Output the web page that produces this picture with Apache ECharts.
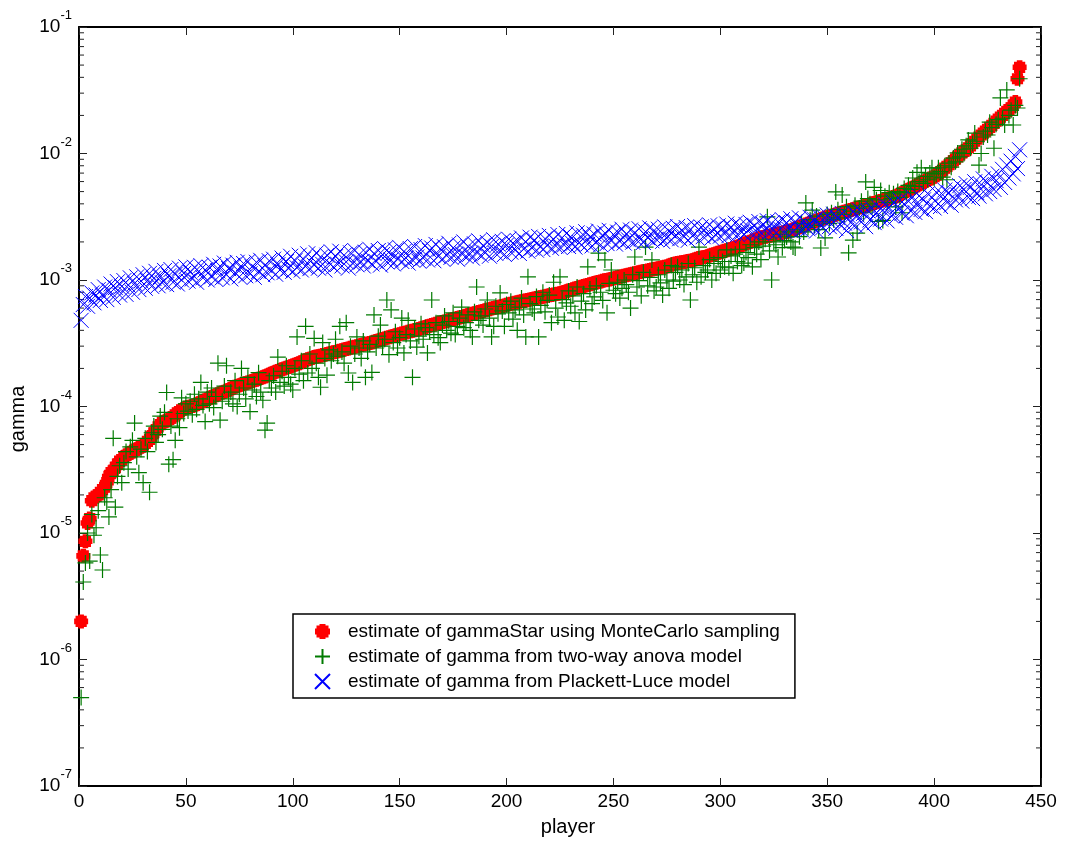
<!DOCTYPE html>
<html><head><meta charset="utf-8">
<script src="https://cdn.jsdelivr.net/npm/echarts@6/dist/echarts.min.js"></script>
<style>html,body{margin:0;padding:0;background:#fff}#c{width:1071px;height:842px}</style>
</head><body><div id="c"></div>
<script>
const seriesNames = [
  'estimate of gammaStar using MonteCarlo sampling',
  'estimate of gamma from two-way anova model',
  'estimate of gamma from Plackett-Luce model'
];
const xTickLabels = [0,50,100,150,200,250,300,350,400,450];
const yDecades = [-7,-6,-5,-4,-3,-2,-1];
const minorMantissas = [2,3,4,5,6,7,8,9];

// gammaStar, MonteCarlo (players 1..440)
const gammaStarMC = [
2.0e-6,6.6e-6,8.6e-6,1.2e-5,1.3e-5,1.8e-5,1.9e-5,1.95e-5,2.0e-5,2.1e-5,
2.2e-5,2.3e-5,2.5e-5,2.8e-5,3.0e-5,3.1e-5,3.3e-5,3.5e-5,3.7e-5,3.8e-5,
4.0e-5,4.1e-5,4.2e-5,4.3e-5,4.4e-5,4.5e-5,4.6e-5,4.7e-5,4.8e-5,4.9e-5,
5.1e-5,5.3e-5,5.5e-5,5.8e-5,6.2e-5,6.5e-5,6.9e-5,7.2e-5,7.5e-5,7.6e-5,
7.7e-5,7.9e-5,8.1e-5,8.3e-5,8.6e-5,8.9e-5,9.1e-5,9.4e-5,9.6e-5,9.8e-5,
9.9e-5,1.0e-4,1.01e-4,1.02e-4,1.04e-4,1.06e-4,1.08e-4,1.1e-4,1.12e-4,1.14e-4,
1.16e-4,1.19e-4,1.21e-4,1.23e-4,1.25e-4,1.27e-4,1.29e-4,1.31e-4,1.33e-4,1.35e-4,
1.38e-4,1.41e-4,1.43e-4,1.45e-4,1.47e-4,1.49e-4,1.51e-4,1.53e-4,1.55e-4,1.57e-4,
1.59e-4,1.61e-4,1.63e-4,1.66e-4,1.68e-4,1.7e-4,1.73e-4,1.76e-4,1.79e-4,1.82e-4,
1.85e-4,1.88e-4,1.91e-4,1.94e-4,1.97e-4,2.0e-4,2.02e-4,2.05e-4,2.08e-4,2.11e-4,
2.14e-4,2.17e-4,2.2e-4,2.24e-4,2.28e-4,2.32e-4,2.36e-4,2.39e-4,2.42e-4,2.46e-4,
2.48e-4,2.5e-4,2.52e-4,2.55e-4,2.57e-4,2.6e-4,2.62e-4,2.65e-4,2.68e-4,2.7e-4,
2.73e-4,2.76e-4,2.79e-4,2.82e-4,2.85e-4,2.88e-4,2.91e-4,2.94e-4,2.97e-4,3.0e-4,
3.03e-4,3.06e-4,3.09e-4,3.12e-4,3.15e-4,3.18e-4,3.21e-4,3.25e-4,3.29e-4,3.33e-4,
3.37e-4,3.41e-4,3.45e-4,3.49e-4,3.53e-4,3.57e-4,3.61e-4,3.65e-4,3.69e-4,3.73e-4,
3.77e-4,3.81e-4,3.85e-4,3.89e-4,3.93e-4,3.97e-4,4.01e-4,4.05e-4,4.1e-4,4.15e-4,
4.2e-4,4.25e-4,4.3e-4,4.35e-4,4.4e-4,4.45e-4,4.5e-4,4.55e-4,4.6e-4,4.65e-4,
4.7e-4,4.75e-4,4.8e-4,4.85e-4,4.9e-4,4.95e-4,5.0e-4,5.05e-4,5.1e-4,5.16e-4,
5.22e-4,5.28e-4,5.34e-4,5.4e-4,5.46e-4,5.52e-4,5.58e-4,5.64e-4,5.7e-4,5.76e-4,
5.82e-4,5.88e-4,5.94e-4,6.0e-4,6.06e-4,6.12e-4,6.18e-4,6.24e-4,6.3e-4,6.36e-4,
6.42e-4,6.48e-4,6.54e-4,6.6e-4,6.66e-4,6.72e-4,6.78e-4,6.84e-4,6.9e-4,6.96e-4,
7.02e-4,7.08e-4,7.14e-4,7.2e-4,7.26e-4,7.32e-4,7.38e-4,7.44e-4,7.5e-4,7.56e-4,
7.62e-4,7.68e-4,7.74e-4,7.8e-4,7.86e-4,7.95e-4,8.05e-4,8.15e-4,8.25e-4,8.35e-4,
8.45e-4,8.55e-4,8.65e-4,8.75e-4,8.85e-4,8.95e-4,9.05e-4,9.15e-4,9.25e-4,9.35e-4,
9.45e-4,9.55e-4,9.65e-4,9.75e-4,9.85e-4,9.95e-4,1.0e-3,1.01e-3,1.02e-3,1.03e-3,
1.04e-3,1.05e-3,1.06e-3,1.07e-3,1.08e-3,1.09e-3,1.1e-3,1.11e-3,1.12e-3,1.13e-3,
1.14e-3,1.15e-3,1.16e-3,1.17e-3,1.18e-3,1.19e-3,1.2e-3,1.21e-3,1.22e-3,1.23e-3,
1.24e-3,1.25e-3,1.26e-3,1.27e-3,1.28e-3,1.3e-3,1.32e-3,1.34e-3,1.35e-3,1.36e-3,
1.37e-3,1.38e-3,1.39e-3,1.4e-3,1.41e-3,1.42e-3,1.43e-3,1.45e-3,1.47e-3,1.49e-3,
1.5e-3,1.51e-3,1.52e-3,1.54e-3,1.56e-3,1.58e-3,1.6e-3,1.62e-3,1.64e-3,1.66e-3,
1.68e-3,1.7e-3,1.72e-3,1.74e-3,1.76e-3,1.78e-3,1.8e-3,1.83e-3,1.86e-3,1.89e-3,
1.92e-3,1.95e-3,1.98e-3,2.01e-3,2.04e-3,2.07e-3,2.1e-3,2.13e-3,2.16e-3,2.19e-3,
2.2e-3,2.22e-3,2.24e-3,2.26e-3,2.28e-3,2.3e-3,2.32e-3,2.34e-3,2.36e-3,2.38e-3,
2.4e-3,2.43e-3,2.46e-3,2.5e-3,2.54e-3,2.58e-3,2.62e-3,2.66e-3,2.7e-3,2.74e-3,
2.78e-3,2.82e-3,2.86e-3,2.9e-3,2.94e-3,2.98e-3,3.02e-3,3.06e-3,3.1e-3,3.14e-3,
3.18e-3,3.22e-3,3.26e-3,3.3e-3,3.34e-3,3.38e-3,3.42e-3,3.46e-3,3.5e-3,3.54e-3,
3.58e-3,3.62e-3,3.66e-3,3.7e-3,3.74e-3,3.78e-3,3.82e-3,3.87e-3,3.92e-3,3.97e-3,
4.02e-3,4.07e-3,4.12e-3,4.17e-3,4.22e-3,4.27e-3,4.32e-3,4.37e-3,4.42e-3,4.47e-3,
4.52e-3,4.58e-3,4.66e-3,4.76e-3,4.86e-3,4.96e-3,5.06e-3,5.16e-3,5.26e-3,5.36e-3,
5.48e-3,5.6e-3,5.72e-3,5.84e-3,5.96e-3,6.08e-3,6.2e-3,6.32e-3,6.44e-3,6.56e-3,
6.75e-3,6.95e-3,7.15e-3,7.4e-3,7.65e-3,7.9e-3,8.15e-3,8.45e-3,8.75e-3,9.05e-3,
9.4e-3,9.75e-3,1.01e-2,1.04e-2,1.07e-2,1.11e-2,1.15e-2,1.2e-2,1.25e-2,1.3e-2,
1.35e-2,1.4e-2,1.45e-2,1.5e-2,1.55e-2,1.61e-2,1.67e-2,1.73e-2,1.8e-2,1.87e-2,
1.94e-2,2.0e-2,2.08e-2,2.15e-2,2.22e-2,2.3e-2,2.4e-2,2.55e-2,3.9e-2,4.8e-2
];

// gamma, two-way anova model
const gammaAnova = [
5.0e-7,4.1e-6,5.8e-6,1.0e-5,6.0e-6,1.4e-5,9.6e-6,1.1e-5,1.5e-5,6.7e-6,
5.1e-6,1.9e-5,1.76e-5,1.34e-5,2.2e-5,5.6e-5,1.6e-5,2.8e-5,3.4e-5,2.5e-5,
3.6e-5,4.4e-5,3.2e-5,4.8e-5,5.4e-5,7.4e-5,4.0e-5,3.0e-5,4.6e-5,2.5e-5,
5.6e-5,4.4e-5,2.1e-5,6.2e-5,7.0e-5,5.2e-5,6.0e-5,8.4e-5,6.6e-5,9.0e-5,
1.29e-4,3.5e-5,7.0e-5,3.8e-5,5.4e-5,8.0e-5,6.8e-5,1.17e-4,8.8e-5,1.05e-4,
9.2e-5,1.1e-4,8.6e-5,1.25e-4,9.5e-5,1.15e-4,1.55e-4,1.02e-4,7.6e-5,1.3e-4,
1.05e-4,1.4e-4,9.8e-5,1.2e-4,2.2e-4,7.8e-5,1.1e-4,1.45e-4,2.1e-4,1.15e-4,
1.3e-4,1.05e-4,1.6e-4,1.0e-4,1.25e-4,2.0e-4,1.4e-4,1.15e-4,1.7e-4,9.1e-5,
1.35e-4,1.5e-4,1.2e-4,1.85e-4,1.3e-4,1.12e-4,6.5e-5,7.4e-5,1.6e-4,1.4e-4,
1.75e-4,1.3e-4,2.46e-4,1.55e-4,1.9e-4,1.45e-4,2.1e-4,1.7e-4,1.5e-4,1.35e-4,
2.0e-4,3.55e-4,1.8e-4,2.3e-4,1.6e-4,4.3e-4,1.84e-4,2.6e-4,2.0e-4,3.45e-4,
2.2e-4,1.7e-4,1.42e-4,3.2e-4,2.4e-4,1.77e-4,2.8e-4,2.3e-4,2.6e-4,3.4e-4,
2.5e-4,4.3e-4,2.7e-4,2.2e-4,4.6e-4,1.84e-4,3.0e-4,1.55e-4,2.6e-4,3.55e-4,
2.9e-4,2.4e-4,3.3e-4,1.7e-4,2.7e-4,3.1e-4,1.86e-4,5.3e-4,2.9e-4,3.6e-4,
4.4e-4,3.0e-4,3.4e-4,6.95e-4,2.57e-4,5.8e-4,3.2e-4,3.9e-4,2.9e-4,3.5e-4,
5.0e-4,2.65e-4,3.7e-4,4.8e-4,3.3e-4,1.7e-4,4.1e-4,2.95e-4,3.6e-4,4.5e-4,
3.4e-4,4.2e-4,2.65e-4,3.9e-4,6.95e-4,3.7e-4,4.6e-4,3.5e-4,3.2e-4,4.4e-4,
5.2e-4,4.0e-4,4.7e-4,3.8e-4,5.5e-4,3.7e-4,4.3e-4,5.0e-4,6.1e-4,4.2e-4,
4.6e-4,5.3e-4,4.0e-4,3.55e-4,5.6e-4,8.8e-4,4.8e-4,5.2e-4,4.4e-4,5.9e-4,
6.95e-4,5.0e-4,3.55e-4,4.3e-4,6.2e-4,5.4e-4,7.9e-4,5.7e-4,4.3e-4,6.4e-4,
5.5e-4,6.8e-4,4.9e-4,5.8e-4,4.0e-4,6.1e-4,7.2e-4,5.3e-4,3.55e-4,1.06e-3,
6.5e-4,5.9e-4,5.5e-4,7.4e-4,3.55e-4,6.3e-4,8.0e-4,5.6e-4,6.9e-4,7.6e-4,
4.6e-4,9.6e-4,6.0e-4,5.1e-4,1.06e-3,7.0e-4,4.8e-4,6.6e-4,8.2e-4,6.2e-4,
7.5e-4,5.5e-4,8.8e-4,4.7e-4,6.8e-4,7.8e-4,5.8e-4,1.27e-3,8.5e-4,6.5e-4,
7.35e-4,9.0e-4,1.63e-3,8.0e-4,6.9e-4,1.44e-3,5.5e-4,9.4e-4,1.2e-3,8.3e-4,
7.8e-4,9.6e-4,7.2e-4,8.6e-4,1.0e-3,9.2e-4,8.0e-4,6.0e-4,1.1e-3,1.52e-3,
8.8e-4,9.9e-4,7.5e-4,1.15e-3,1.82e-3,9.0e-4,1.05e-3,1.44e-3,8.2e-4,8.8e-4,
1.1e-3,9.5e-4,7.6e-4,1.2e-3,1.0e-3,8.6e-4,1.3e-3,9.8e-4,1.15e-3,1.27e-3,
1.0e-3,1.2e-3,9.2e-4,1.06e-3,1.35e-3,6.95e-4,1.1e-3,1.25e-3,9.6e-4,1.82e-3,
1.06e-3,1.3e-3,1.15e-3,1.2e-3,1.45e-3,1.0e-3,1.35e-3,1.13e-3,1.5e-3,1.2e-3,
1.4e-3,1.27e-3,1.73e-3,1.25e-3,1.55e-3,1.13e-3,1.6e-3,1.4e-3,1.75e-3,1.3e-3,
1.36e-3,1.65e-3,1.5e-3,1.9e-3,1.27e-3,1.8e-3,1.6e-3,2.0e-3,1.45e-3,1.85e-3,
2.1e-3,3.16e-3,1.7e-3,1.0e-3,2.0e-3,1.9e-3,1.52e-3,2.3e-3,1.8e-3,2.05e-3,
2.19e-3,2.4e-3,2.0e-3,1.82e-3,1.79e-3,2.5e-3,2.2e-3,2.8e-3,2.4e-3,4.07e-3,
2.6e-3,3.0e-3,3.57e-3,2.7e-3,3.2e-3,2.5e-3,1.79e-3,2.9e-3,2.15e-3,3.3e-3,
2.8e-3,3.4e-3,3.0e-3,4.97e-3,3.6e-3,3.1e-3,4.7e-3,3.3e-3,3.8e-3,1.64e-3,
3.5e-3,2.07e-3,3.9e-3,2.35e-3,3.7e-3,4.2e-3,3.4e-3,5.96e-3,4.4e-3,4.0e-3,
3.8e-3,5.4e-3,4.3e-3,2.9e-3,5.1e-3,2.96e-3,4.6e-3,4.1e-3,4.9e-3,4.4e-3,
4.8e-3,3.78e-3,5.0e-3,4.5e-3,3.4e-3,5.3e-3,4.9e-3,5.6e-3,5.2e-3,6.4e-3,
5.5e-3,7.1e-3,6.0e-3,7.7e-3,5.8e-3,6.6e-3,6.2e-3,7.0e-3,7.7e-3,6.4e-3,
6.9e-3,7.7e-3,7.2e-3,6.5e-3,8.0e-3,6.2e-3,8.4e-3,7.8e-3,9.2e-3,8.6e-3,
1.01e-2,9.4e-3,1.08e-2,1.0e-2,1.15e-2,1.28e-2,1.1e-2,1.2e-2,1.45e-2,1.25e-2,
8.1e-3,1.0e-2,1.35e-2,1.5e-2,1.4e-2,1.77e-2,1.6e-2,1.1e-2,1.7e-2,1.85e-2,
2.75e-2,1.9e-2,1.68e-2,3.18e-2,2.0e-2,2.2e-2,1.68e-2,2.4e-2,2.29e-2,3.9e-2
];

// gamma, Plackett-Luce model
const gammaPL = [
4.8e-4,6.4e-4,7.4e-4,6.2e-4,7.2e-4,7.9e-4,6.6e-4,7.6e-4,8.4e-4,6.9e-4,
7.6e-4,8.8e-4,7.0e-4,8.3e-4,9.3e-4,7.3e-4,8.7e-4,9.7e-4,7.6e-4,8.9e-4,
9.9e-4,7.7e-4,9.1e-4,1.04e-3,8.0e-4,9.4e-4,1.06e-3,8.4e-4,9.8e-4,1.1e-3,
8.6e-4,9.9e-4,1.13e-3,8.9e-4,1.03e-3,1.17e-3,9.0e-4,1.06e-3,9.5e-4,1.19e-3,
9.2e-4,1.08e-3,1.21e-3,9.6e-4,1.11e-3,9.3e-4,1.24e-3,1.0e-3,1.13e-3,1.27e-3,
9.8e-4,1.15e-3,1.02e-3,1.26e-3,9.6e-4,1.17e-3,1.3e-3,1.04e-3,1.2e-3,1.0e-3,
1.26e-3,1.06e-3,1.33e-3,1.01e-3,1.18e-3,1.29e-3,1.04e-3,1.36e-3,1.1e-3,1.23e-3,
1.02e-3,1.31e-3,1.14e-3,1.38e-3,1.06e-3,1.24e-3,1.35e-3,1.08e-3,1.4e-3,1.12e-3,
1.27e-3,1.05e-3,1.38e-3,1.17e-3,1.43e-3,1.1e-3,1.3e-3,1.14e-3,1.42e-3,1.18e-3,
1.46e-3,1.11e-3,1.32e-3,1.2e-3,1.49e-3,1.15e-3,1.4e-3,1.23e-3,1.54e-3,1.17e-3,
1.42e-3,1.25e-3,1.57e-3,1.2e-3,1.46e-3,1.28e-3,1.61e-3,1.23e-3,1.49e-3,1.31e-3,
1.64e-3,1.24e-3,1.52e-3,1.33e-3,1.2e-3,1.57e-3,1.36e-3,1.67e-3,1.27e-3,1.53e-3,
1.33e-3,1.69e-3,1.29e-3,1.57e-3,1.39e-3,1.24e-3,1.64e-3,1.36e-3,1.71e-3,1.32e-3,
1.59e-3,1.39e-3,1.29e-3,1.66e-3,1.42e-3,1.75e-3,1.34e-3,1.62e-3,1.4e-3,1.71e-3,
1.31e-3,1.59e-3,1.77e-3,1.39e-3,1.66e-3,1.44e-3,1.34e-3,1.73e-3,1.47e-3,1.81e-3,
1.4e-3,1.68e-3,1.49e-3,1.36e-3,1.77e-3,1.44e-3,1.84e-3,1.52e-3,1.41e-3,1.74e-3,
1.49e-3,1.87e-3,1.44e-3,1.71e-3,1.79e-3,1.42e-3,1.91e-3,1.54e-3,1.76e-3,1.47e-3,
1.83e-3,1.56e-3,1.95e-3,1.51e-3,1.79e-3,1.59e-3,1.46e-3,1.89e-3,1.62e-3,2.0e-3,
1.54e-3,1.84e-3,1.61e-3,1.49e-3,1.93e-3,1.66e-3,2.04e-3,1.57e-3,1.87e-3,1.64e-3,
1.98e-3,1.54e-3,1.85e-3,2.08e-3,1.62e-3,1.92e-3,1.67e-3,2.02e-3,1.59e-3,1.89e-3,
2.1e-3,1.66e-3,1.96e-3,1.72e-3,2.05e-3,1.62e-3,2.15e-3,1.76e-3,2.0e-3,1.69e-3,
2.18e-3,1.79e-3,2.07e-3,1.72e-3,2.21e-3,1.84e-3,1.74e-3,2.12e-3,1.87e-3,2.25e-3,
1.78e-3,2.1e-3,1.86e-3,2.29e-3,1.81e-3,2.16e-3,1.89e-3,2.33e-3,1.84e-3,2.2e-3,
1.94e-3,1.82e-3,2.36e-3,1.98e-3,1.89e-3,2.26e-3,2.41e-3,1.92e-3,2.18e-3,1.86e-3,
2.31e-3,1.99e-3,2.44e-3,1.9e-3,2.22e-3,2.35e-3,1.94e-3,2.47e-3,2.04e-3,2.29e-3,
1.92e-3,2.39e-3,2.02e-3,2.52e-3,1.96e-3,2.31e-3,2.08e-3,2.48e-3,1.99e-3,2.37e-3,
2.06e-3,2.54e-3,2.12e-3,1.98e-3,2.41e-3,2.16e-3,2.58e-3,2.04e-3,2.46e-3,2.1e-3,
2.52e-3,2.19e-3,2.02e-3,2.63e-3,2.14e-3,2.44e-3,2.08e-3,2.56e-3,2.22e-3,2.65e-3,
2.12e-3,2.48e-3,2.2e-3,2.6e-3,2.06e-3,2.52e-3,2.24e-3,2.69e-3,2.16e-3,2.5e-3,
2.63e-3,2.2e-3,2.56e-3,2.28e-3,2.73e-3,2.14e-3,2.54e-3,2.26e-3,2.68e-3,2.22e-3,
2.58e-3,2.32e-3,2.77e-3,2.24e-3,2.63e-3,2.34e-3,2.81e-3,2.28e-3,2.69e-3,2.39e-3,
2.3e-3,2.75e-3,2.44e-3,2.86e-3,2.34e-3,2.71e-3,2.4e-3,2.9e-3,2.36e-3,2.77e-3,
2.46e-3,2.94e-3,2.4e-3,2.81e-3,2.5e-3,2.34e-3,2.88e-3,2.54e-3,3.0e-3,2.44e-3,
2.84e-3,2.52e-3,3.05e-3,2.42e-3,2.9e-3,2.58e-3,3.1e-3,2.49e-3,2.94e-3,2.62e-3,
2.54e-3,3.13e-3,2.66e-3,3.0e-3,2.44e-3,3.2e-3,2.72e-3,2.6e-3,3.07e-3,3.26e-3,
2.64e-3,2.98e-3,3.31e-3,2.56e-3,3.11e-3,2.74e-3,3.36e-3,2.82e-3,2.46e-3,3.2e-3,
2.84e-3,3.44e-3,2.7e-3,3.26e-3,3.57e-3,2.88e-3,3.36e-3,2.64e-3,3.52e-3,2.98e-3,
3.68e-3,2.84e-3,3.41e-3,3.78e-3,3.03e-3,3.57e-3,3.94e-3,2.93e-3,3.73e-3,3.22e-3,
4.1e-3,3.13e-3,3.83e-3,4.3e-3,3.37e-3,3.99e-3,3.22e-3,4.2e-3,3.52e-3,4.52e-3,
3.42e-3,4.04e-3,4.62e-3,3.62e-3,4.3e-3,3.47e-3,4.83e-3,3.86e-3,4.46e-3,3.71e-3,
4.94e-3,4.0e-3,3.81e-3,4.72e-3,5.14e-3,4.1e-3,4.88e-3,3.9e-3,5.36e-3,4.3e-3,
4.7e-3,5.56e-3,4.2e-3,5.2e-3,5.78e-3,4.5e-3,5.4e-3,4.4e-3,5.98e-3,4.9e-3,
4.6e-3,5.67e-3,6.3e-3,4.8e-3,5.88e-3,5.0e-3,6.6e-3,5.2e-3,6.1e-3,6.9e-3,
5.4e-3,7.5e-3,5.9e-3,8.1e-3,6.4e-3,8.7e-3,6.9e-3,9.5e-3,7.6e-3,1.07e-2
];

const minorTickValues = [];
yDecades.slice(0, -1).forEach(function (d) {
  minorMantissas.forEach(function (m) { minorTickValues.push(m * Math.pow(10, d)); });
});

function toPoints(arr) { return arr.map(function (v, i) { return [i + 1, v]; }); }

const FONT = '"Liberation Sans", Arial, Helvetica, sans-serif';
const X_MIN = xTickLabels[0], X_MAX = xTickLabels[xTickLabels.length - 1];
const Y_MIN = Math.pow(10, yDecades[0]), Y_MAX = Math.pow(10, yDecades[yDecades.length - 1]);

const redSymbol = 'path://M3,0L7,0L7,1L9,1L9,3L10,3L10,7L9,7L9,9L7,9L7,10L3,10L3,9L1,9L1,7L0,7L0,3L1,3L1,1L3,1Z';
const plusSymbol = 'path://M0,5L10,5M5,0L5,10';
const crossSymbol = 'path://M0,0L10,10M10,0L0,10';

const chart = echarts.init(document.getElementById('c'), null, { renderer: 'canvas' });
const axisLineStyle = { color: '#000', width: 2 };
const tickStyle = { color: '#222', width: 1 };

chart.setOption({
  animation: false,
  backgroundColor: '#fff',
  textStyle: { fontFamily: FONT },
  grid: { left: 79, right: 30, top: 27, bottom: 56, containLabel: false, outerBoundsMode: 'none' },
  legend: {
    orient: 'vertical', left: 293, top: 614,
    data: seriesNames.map(function (n) { return { name: n }; }),
    itemWidth: 15, itemHeight: 15, itemGap: 6,
    padding: [8, 15, 7, 21],
    borderColor: '#000', borderWidth: 1.5, backgroundColor: '#fff',
    selectedMode: false,
    textStyle: { fontSize: 19, color: '#000', fontFamily: FONT, padding: [0, 0, 0, 13] }
  },
  xAxis: [{
    type: 'value', min: X_MIN, max: X_MAX, interval: 50, position: 'bottom',
    name: 'player', nameLocation: 'middle', nameGap: 31,
    nameTextStyle: { fontSize: 20, color: '#000', fontFamily: FONT, padding: [0, 0, 0, 16] },
    axisLine: { onZero: false, lineStyle: axisLineStyle },
    axisTick: { inside: true, length: 8, lineStyle: tickStyle },
    axisLabel: { fontSize: 19, color: '#000', margin: 6, fontFamily: FONT },
    splitLine: { show: false }
  }, {
    type: 'value', min: X_MIN, max: X_MAX, interval: 50, position: 'top',
    axisLine: { onZero: false, lineStyle: axisLineStyle },
    axisTick: { inside: true, length: 8, lineStyle: tickStyle },
    axisLabel: { show: false }, splitLine: { show: false }
  }],
  yAxis: [{
    type: 'log', logBase: 10, min: Y_MIN, max: Y_MAX, interval: 1, splitNumber: 6, position: 'left',
    name: 'gamma', nameLocation: 'middle', nameGap: 50, nameRotate: 90,
    nameTextStyle: { fontSize: 20, color: '#000', fontFamily: FONT, padding: [0, 25, 0, 0] },
    axisLine: { onZero: false, lineStyle: axisLineStyle },
    axisTick: { inside: true, length: 8, lineStyle: tickStyle },
    axisLabel: {
      margin: 7, fontFamily: FONT,
      formatter: function (v) { return '{b|10}{s|' + Math.round(Math.log10(v)) + '}'; },
      rich: {
        b: { fontSize: 19, color: '#000', lineHeight: 36, fontFamily: FONT },
        s: { fontSize: 13, color: '#000', lineHeight: 13, padding: [0, 0, 23, 0], fontFamily: FONT }
      }
    },
    splitLine: { show: false }
  }, {
    type: 'log', logBase: 10, min: Y_MIN, max: Y_MAX, interval: 1, splitNumber: 6, position: 'right',
    axisLine: { onZero: false, lineStyle: axisLineStyle },
    axisTick: { inside: true, length: 8, lineStyle: tickStyle },
    axisLabel: { show: false }, splitLine: { show: false }
  }],
  series: [{
    type: 'custom', name: 'minor ticks', silent: true, clip: false, z: 1,
    xAxisIndex: 0, yAxisIndex: 0,
    data: minorTickValues.map(function (v) { return [X_MIN, v]; }),
    renderItem: function (params, api) {
      var v = api.value(1);
      var l = api.coord([X_MIN, v]);
      var r = api.coord([X_MAX, v]);
      return { type: 'group', children: [
        { type: 'line', shape: { x1: l[0], y1: l[1], x2: l[0] + 5, y2: l[1] }, style: { stroke: '#222', lineWidth: 1 } },
        { type: 'line', shape: { x1: r[0] - 5, y1: r[1], x2: r[0], y2: r[1] }, style: { stroke: '#222', lineWidth: 1 } }
      ] };
    }
  }, {
    type: 'scatter', name: seriesNames[0], data: toPoints(gammaStarMC),
    symbol: redSymbol, symbolSize: 14, z: 2,
    itemStyle: { color: '#ff0000', opacity: 1 }, emphasis: { disabled: true }
  }, {
    type: 'scatter', name: seriesNames[1], data: toPoints(gammaAnova),
    symbol: plusSymbol, symbolSize: 16, z: 2,
    itemStyle: { color: 'rgba(0,0,0,0)', borderColor: '#007a00', borderWidth: 1.2, opacity: 1 }, emphasis: { disabled: true }
  }, {
    type: 'scatter', name: seriesNames[2], data: toPoints(gammaPL),
    symbol: crossSymbol, symbolSize: 15, z: 2,
    itemStyle: { color: 'rgba(0,0,0,0)', borderColor: '#0000ff', borderWidth: 1, opacity: 1 }, emphasis: { disabled: true }
  }]
});
</script>
</body></html>
